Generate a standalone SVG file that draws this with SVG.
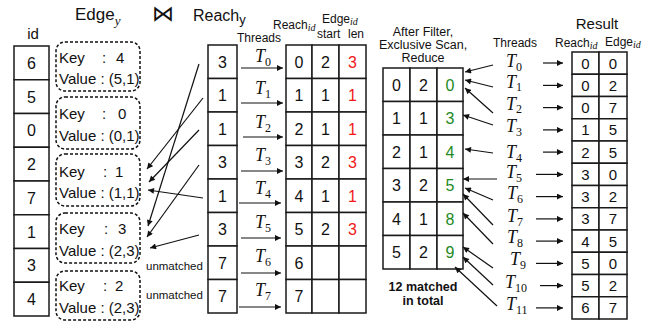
<svg xmlns="http://www.w3.org/2000/svg" width="650" height="322" viewBox="0 0 650 322">
<style>
.cell{fill:#fff;stroke:#1a1a1a;stroke-width:1.5}
.v{font-family:"Liberation Sans",Arial,sans-serif;font-size:16px;fill:#111;text-anchor:middle}
.rv{font-family:"Liberation Sans",Arial,sans-serif;font-size:15px;fill:#111;text-anchor:middle}
.red{fill:#f01818}
.grn{fill:#1e8a1e}
.lab{font-family:"Liberation Sans",Arial,sans-serif;fill:#111}
.box{fill:none;stroke:#111;stroke-width:1.5;stroke-dasharray:3 2}
.kv{font-family:"Liberation Sans",Arial,sans-serif;font-size:15px;fill:#111}
.T{font-family:"Liberation Serif","Times New Roman",serif;font-style:italic;font-size:18px;fill:#111}
.sub{font-style:normal;font-size:12px}
.conn line{stroke:#111;stroke-width:1.2;marker-end:url(#ah)}
.it{font-family:"Liberation Serif","Times New Roman",serif;font-style:italic}
</style>
<defs>
<marker id="ah" viewBox="0 0 10 10" refX="10" refY="5" markerWidth="7" markerHeight="6" markerUnits="userSpaceOnUse" orient="auto">
<path d="M0,0 L10,5 L0,10 z" fill="#111"/>
</marker>
</defs>

<!-- Titles -->
<g id="titles">
<text class="lab" x="75" y="20" font-size="17">Edge<tspan class="it" font-size="13" dy="5">y</tspan></text>
<text x="163" y="21" font-family="DejaVu Sans,sans-serif" font-size="22" text-anchor="middle" fill="#111">⋈</text>
<text class="lab" x="193" y="21" font-size="16">Reach<tspan font-size="13" dy="3">y</tspan></text>
<text class="lab" x="33" y="39" font-size="15" text-anchor="middle">id</text>
<text class="lab" x="237" y="42" font-size="12">Threads</text>
<text class="lab" x="273" y="29" font-size="12">Reach<tspan class="it" font-size="10" dy="2">id</tspan></text>
<text class="lab" x="322" y="23" font-size="12">Edge<tspan class="it" font-size="10" dy="2">id</tspan></text>
<text class="lab" x="317" y="38" font-size="12">start</text>
<text class="lab" x="348" y="38" font-size="12">len</text>
<text class="lab" x="423" y="36" font-size="12.5" text-anchor="middle">After Filter,</text>
<text class="lab" x="423" y="49" font-size="12.5" text-anchor="middle">Exclusive Scan,</text>
<text class="lab" x="423" y="62" font-size="12.5" text-anchor="middle">Reduce</text>
<text class="lab" x="423" y="291" font-size="12.5" font-weight="bold" text-anchor="middle">12 matched</text>
<text class="lab" x="423" y="305" font-size="12.5" font-weight="bold" text-anchor="middle">in total</text>
<text class="lab" x="493" y="47" font-size="12">Threads</text>
<text class="lab" x="597" y="29" font-size="15" text-anchor="middle">Result</text>
<text class="lab" x="555" y="47" font-size="12">Reach<tspan class="it" font-size="10" dy="2">id</tspan></text>
<text class="lab" x="605" y="46" font-size="12">Edge<tspan class="it" font-size="10" dy="2">id</tspan></text>
<text class="lab" x="146" y="270" font-size="11.5">unmatched</text>
<text class="lab" x="146" y="299" font-size="11.5">unmatched</text>
</g>

<!-- id column -->
<g id="idcol">
<rect class="cell" x="14" y="46" width="35" height="33.75"/>
<rect class="cell" x="14" y="79.75" width="35" height="33.75"/>
<rect class="cell" x="14" y="113.5" width="35" height="33.75"/>
<rect class="cell" x="14" y="147.25" width="35" height="33.75"/>
<rect class="cell" x="14" y="181" width="35" height="33.75"/>
<rect class="cell" x="14" y="214.75" width="35" height="33.75"/>
<rect class="cell" x="14" y="248.5" width="35" height="33.75"/>
<rect class="cell" x="14" y="282.25" width="35" height="33.75"/>
<text class="v" x="31.5" y="69">6</text>
<text class="v" x="31.5" y="102.6">5</text>
<text class="v" x="31.5" y="136.4">0</text>
<text class="v" x="31.5" y="170.1">2</text>
<text class="v" x="31.5" y="203.9">7</text>
<text class="v" x="31.5" y="237.6">1</text>
<text class="v" x="31.5" y="271.4">3</text>
<text class="v" x="31.5" y="305.1">4</text>
</g>

<!-- Edge key/value boxes -->
<g id="edge0">
<rect class="box" x="56" y="42" width="84" height="49" rx="9"/>
<text class="kv" x="59" y="63">Key</text><text class="kv" x="102" y="63">:</text><text class="kv" x="116" y="63">4</text>
<text class="kv" x="59" y="84">Value : (5,1)</text>
</g>
<g id="edge1">
<rect class="box" x="56" y="97" width="84" height="52" rx="9"/>
<text class="kv" x="59" y="119">Key</text><text class="kv" x="102" y="119">:</text><text class="kv" x="118" y="119">0</text>
<text class="kv" x="59" y="141">Value : (0,1)</text>
</g>
<g id="edge2">
<rect class="box" x="56" y="154" width="84" height="52" rx="9"/>
<text class="kv" x="59" y="177">Key</text><text class="kv" x="103" y="177">:</text><text class="kv" x="115" y="177">1</text>
<text class="kv" x="59" y="198">Value : (1,1)</text>
</g>
<g id="edge3">
<rect class="box" x="56" y="213" width="84" height="50" rx="9"/>
<text class="kv" x="59" y="234">Key</text><text class="kv" x="104" y="234">:</text><text class="kv" x="118" y="234">3</text>
<text class="kv" x="59" y="256">Value : (2,3)</text>
</g>
<g id="edge4">
<rect class="box" x="56" y="271" width="84" height="49" rx="9"/>
<text class="kv" x="59" y="291">Key</text><text class="kv" x="103" y="291">:</text><text class="kv" x="115" y="291">2</text>
<text class="kv" x="59" y="313">Value : (2,3)</text>
</g>

<!-- Reach column -->
<g id="reachcol">
<rect class="cell" x="208" y="45" width="29" height="33.5"/>
<rect class="cell" x="208" y="78.5" width="29" height="33.5"/>
<rect class="cell" x="208" y="112" width="29" height="33.5"/>
<rect class="cell" x="208" y="145.5" width="29" height="33.5"/>
<rect class="cell" x="208" y="179" width="29" height="33.5"/>
<rect class="cell" x="208" y="212.5" width="29" height="33.5"/>
<rect class="cell" x="208" y="246" width="29" height="33.5"/>
<rect class="cell" x="208" y="279.5" width="29" height="33.5"/>
<text class="v" x="222.5" y="67.5">3</text>
<text class="v" x="222.5" y="101">1</text>
<text class="v" x="222.5" y="134.5">1</text>
<text class="v" x="222.5" y="168">3</text>
<text class="v" x="222.5" y="201.5">1</text>
<text class="v" x="222.5" y="235">3</text>
<text class="v" x="222.5" y="268.5">7</text>
<text class="v" x="222.5" y="302">7</text>
</g>

<!-- Threads T0..T7 (left) -->
<g id="threadsL">
<text class="T" x="255" y="62">T<tspan class="sub" dy="4">0</tspan></text>
<text class="T" x="255" y="94">T<tspan class="sub" dy="4">1</tspan></text>
<text class="T" x="255" y="128">T<tspan class="sub" dy="4">2</tspan></text>
<text class="T" x="255" y="161">T<tspan class="sub" dy="4">3</tspan></text>
<text class="T" x="255" y="194">T<tspan class="sub" dy="4">4</tspan></text>
<text class="T" x="255" y="228">T<tspan class="sub" dy="4">5</tspan></text>
<text class="T" x="255" y="262">T<tspan class="sub" dy="4">6</tspan></text>
<text class="T" x="255" y="296">T<tspan class="sub" dy="4">7</tspan></text>
</g>

<!-- Reach table -->
<g id="reachtable">
<rect class="cell" x="286" y="45" width="26" height="33.5"/><rect class="cell" x="312" y="45" width="27" height="33.5"/><rect class="cell" x="339" y="45" width="27" height="33.5"/>
<rect class="cell" x="286" y="78.5" width="26" height="33.5"/><rect class="cell" x="312" y="78.5" width="27" height="33.5"/><rect class="cell" x="339" y="78.5" width="27" height="33.5"/>
<rect class="cell" x="286" y="112" width="26" height="33.5"/><rect class="cell" x="312" y="112" width="27" height="33.5"/><rect class="cell" x="339" y="112" width="27" height="33.5"/>
<rect class="cell" x="286" y="145.5" width="26" height="33.5"/><rect class="cell" x="312" y="145.5" width="27" height="33.5"/><rect class="cell" x="339" y="145.5" width="27" height="33.5"/>
<rect class="cell" x="286" y="179" width="26" height="33.5"/><rect class="cell" x="312" y="179" width="27" height="33.5"/><rect class="cell" x="339" y="179" width="27" height="33.5"/>
<rect class="cell" x="286" y="212.5" width="26" height="33.5"/><rect class="cell" x="312" y="212.5" width="27" height="33.5"/><rect class="cell" x="339" y="212.5" width="27" height="33.5"/>
<rect class="cell" x="286" y="246" width="26" height="33.5"/><rect class="cell" x="312" y="246" width="27" height="33.5"/><rect class="cell" x="339" y="246" width="27" height="33.5"/>
<rect class="cell" x="286" y="279.5" width="26" height="33.5"/><rect class="cell" x="312" y="279.5" width="27" height="33.5"/><rect class="cell" x="339" y="279.5" width="27" height="33.5"/>
<text class="v" x="299" y="67.5">0</text><text class="v" x="325.5" y="67.5">2</text><text class="v red" x="352.5" y="67.5">3</text>
<text class="v" x="299" y="101">1</text><text class="v" x="325.5" y="101">1</text><text class="v red" x="352.5" y="101">1</text>
<text class="v" x="299" y="134.5">2</text><text class="v" x="325.5" y="134.5">1</text><text class="v red" x="352.5" y="134.5">1</text>
<text class="v" x="299" y="168">3</text><text class="v" x="325.5" y="168">2</text><text class="v red" x="352.5" y="168">3</text>
<text class="v" x="299" y="201.5">4</text><text class="v" x="325.5" y="201.5">1</text><text class="v red" x="352.5" y="201.5">1</text>
<text class="v" x="299" y="235">5</text><text class="v" x="325.5" y="235">2</text><text class="v red" x="352.5" y="235">3</text>
<text class="v" x="299" y="268.5">6</text>
<text class="v" x="299" y="302">7</text>
</g>

<!-- After filter table -->
<g id="filtertable">
<rect class="cell" x="383" y="68" width="27" height="33.5"/><rect class="cell" x="410" y="68" width="27" height="33.5"/><rect class="cell" x="437" y="68" width="26" height="33.5"/>
<rect class="cell" x="383" y="101.5" width="27" height="33.5"/><rect class="cell" x="410" y="101.5" width="27" height="33.5"/><rect class="cell" x="437" y="101.5" width="26" height="33.5"/>
<rect class="cell" x="383" y="135" width="27" height="33.5"/><rect class="cell" x="410" y="135" width="27" height="33.5"/><rect class="cell" x="437" y="135" width="26" height="33.5"/>
<rect class="cell" x="383" y="168.5" width="27" height="33.5"/><rect class="cell" x="410" y="168.5" width="27" height="33.5"/><rect class="cell" x="437" y="168.5" width="26" height="33.5"/>
<rect class="cell" x="383" y="202" width="27" height="33.5"/><rect class="cell" x="410" y="202" width="27" height="33.5"/><rect class="cell" x="437" y="202" width="26" height="33.5"/>
<rect class="cell" x="383" y="235.5" width="27" height="33.5"/><rect class="cell" x="410" y="235.5" width="27" height="33.5"/><rect class="cell" x="437" y="235.5" width="26" height="33.5"/>
<text class="v" x="396.5" y="90.5">0</text><text class="v" x="423.5" y="90.5">2</text><text class="v grn" x="450" y="90.5">0</text>
<text class="v" x="396.5" y="124">1</text><text class="v" x="423.5" y="124">1</text><text class="v grn" x="450" y="124">3</text>
<text class="v" x="396.5" y="157.5">2</text><text class="v" x="423.5" y="157.5">1</text><text class="v grn" x="450" y="157.5">4</text>
<text class="v" x="396.5" y="191">3</text><text class="v" x="423.5" y="191">2</text><text class="v grn" x="450" y="191">5</text>
<text class="v" x="396.5" y="224.5">4</text><text class="v" x="423.5" y="224.5">1</text><text class="v grn" x="450" y="224.5">8</text>
<text class="v" x="396.5" y="258">5</text><text class="v" x="423.5" y="258">2</text><text class="v grn" x="450" y="258">9</text>
</g>

<!-- Threads T0..T11 (right) -->
<g id="threadsR">
<text class="T" x="506" y="67">T<tspan class="sub" dy="4">0</tspan></text>
<text class="T" x="506" y="88">T<tspan class="sub" font-size="11" dy="3">1</tspan></text>
<text class="T" x="506" y="110">T<tspan class="sub" font-size="11" dy="3">2</tspan></text>
<text class="T" x="506" y="132">T<tspan class="sub" dy="4">3</tspan></text>
<text class="T" x="506" y="158">T<tspan class="sub" dy="4">4</tspan></text>
<text class="T" x="506" y="178">T<tspan class="sub" dy="4">5</tspan></text>
<text class="T" x="507" y="199">T<tspan class="sub" dy="4">6</tspan></text>
<text class="T" x="507" y="222">T<tspan class="sub" dy="4">7</tspan></text>
<text class="T" x="507" y="243">T<tspan class="sub" dy="4">8</tspan></text>
<text class="T" x="510" y="265">T<tspan class="sub" dy="4">9</tspan></text>
<text class="T" x="505" y="288">T<tspan class="sub" dy="4">10</tspan></text>
<text class="T" x="506" y="310">T<tspan class="sub" dy="4">11</tspan></text>
</g>

<!-- Result table -->
<g id="result">
<rect class="cell" x="572" y="52" width="27" height="22.25"/><rect class="cell" x="599" y="52" width="28" height="22.25"/>
<rect class="cell" x="572" y="74.25" width="27" height="22.25"/><rect class="cell" x="599" y="74.25" width="28" height="22.25"/>
<rect class="cell" x="572" y="96.5" width="27" height="22.25"/><rect class="cell" x="599" y="96.5" width="28" height="22.25"/>
<rect class="cell" x="572" y="118.75" width="27" height="22.25"/><rect class="cell" x="599" y="118.75" width="28" height="22.25"/>
<rect class="cell" x="572" y="141" width="27" height="22.25"/><rect class="cell" x="599" y="141" width="28" height="22.25"/>
<rect class="cell" x="572" y="163.25" width="27" height="22.25"/><rect class="cell" x="599" y="163.25" width="28" height="22.25"/>
<rect class="cell" x="572" y="185.5" width="27" height="22.25"/><rect class="cell" x="599" y="185.5" width="28" height="22.25"/>
<rect class="cell" x="572" y="207.75" width="27" height="22.25"/><rect class="cell" x="599" y="207.75" width="28" height="22.25"/>
<rect class="cell" x="572" y="230" width="27" height="22.25"/><rect class="cell" x="599" y="230" width="28" height="22.25"/>
<rect class="cell" x="572" y="252.25" width="27" height="22.25"/><rect class="cell" x="599" y="252.25" width="28" height="22.25"/>
<rect class="cell" x="572" y="274.5" width="27" height="22.25"/><rect class="cell" x="599" y="274.5" width="28" height="22.25"/>
<rect class="cell" x="572" y="296.75" width="27" height="22.25"/><rect class="cell" x="599" y="296.75" width="28" height="22.25"/>
<text class="rv" x="585.5" y="68.5">0</text><text class="rv" x="613" y="68.5">0</text>
<text class="rv" x="585.5" y="90.8">0</text><text class="rv" x="613" y="90.8">2</text>
<text class="rv" x="585.5" y="113">0</text><text class="rv" x="613" y="113">7</text>
<text class="rv" x="585.5" y="135.3">1</text><text class="rv" x="613" y="135.3">5</text>
<text class="rv" x="585.5" y="157.5">2</text><text class="rv" x="613" y="157.5">5</text>
<text class="rv" x="585.5" y="179.8">3</text><text class="rv" x="613" y="179.8">0</text>
<text class="rv" x="585.5" y="202">3</text><text class="rv" x="613" y="202">2</text>
<text class="rv" x="585.5" y="224.3">3</text><text class="rv" x="613" y="224.3">7</text>
<text class="rv" x="585.5" y="246.5">4</text><text class="rv" x="613" y="246.5">5</text>
<text class="rv" x="585.5" y="268.8">5</text><text class="rv" x="613" y="268.8">0</text>
<text class="rv" x="585.5" y="291">5</text><text class="rv" x="613" y="291">2</text>
<text class="rv" x="585.5" y="313.3">6</text><text class="rv" x="613" y="313.3">7</text>
</g>

<!-- Connectors -->
<g id="connectors" class="conn">
<!-- Reach -> Edge matches -->
<line x1="199" y1="64" x2="148" y2="226"/>
<line x1="203" y1="98" x2="147" y2="169"/>
<line x1="199" y1="130" x2="149" y2="182"/>
<line x1="199" y1="165" x2="147" y2="237"/>
<line x1="203" y1="198" x2="148" y2="190"/>
<line x1="199" y1="235" x2="150" y2="248"/>
<!-- thread arrows to reach table -->
<line x1="241" y1="68" x2="283" y2="68"/>
<line x1="241" y1="103" x2="283" y2="103"/>
<line x1="243" y1="137" x2="283" y2="137"/>
<line x1="241" y1="171" x2="283" y2="171"/>
<line x1="239" y1="203" x2="281" y2="203"/>
<line x1="241" y1="238" x2="281" y2="238"/>
<line x1="241" y1="273" x2="281" y2="273"/>
<line x1="239" y1="307" x2="281" y2="307"/>
<!-- thread arrows to filter table -->
<line x1="493" y1="65" x2="465" y2="72"/>
<line x1="493" y1="87" x2="465" y2="80"/>
<line x1="493" y1="113" x2="465" y2="88"/>
<line x1="493" y1="125" x2="463" y2="115"/>
<line x1="493" y1="153" x2="465" y2="149"/>
<line x1="497" y1="179" x2="463" y2="179"/>
<line x1="493" y1="200" x2="465" y2="188"/>
<line x1="493" y1="225" x2="463" y2="194"/>
<line x1="493" y1="244" x2="463" y2="213"/>
<line x1="493" y1="268" x2="463" y2="247"/>
<line x1="493" y1="285" x2="463" y2="257"/>
<line x1="497" y1="306" x2="455" y2="267"/>
<!-- thread arrows to result -->
<line x1="543" y1="63" x2="563" y2="63"/>
<line x1="543" y1="85.4" x2="563" y2="85.4"/>
<line x1="543" y1="107.6" x2="563" y2="107.6"/>
<line x1="543" y1="129.9" x2="563" y2="129.9"/>
<line x1="543" y1="152.1" x2="563" y2="152.1"/>
<line x1="536" y1="174.4" x2="563" y2="174.4"/>
<line x1="536" y1="196.6" x2="563" y2="196.6"/>
<line x1="536" y1="218.9" x2="563" y2="218.9"/>
<line x1="536" y1="241.1" x2="563" y2="241.1"/>
<line x1="536" y1="263.4" x2="563" y2="263.4"/>
<line x1="540" y1="285.6" x2="563" y2="285.6"/>
<line x1="536" y1="307.9" x2="563" y2="307.9"/>
</g>
</svg>
